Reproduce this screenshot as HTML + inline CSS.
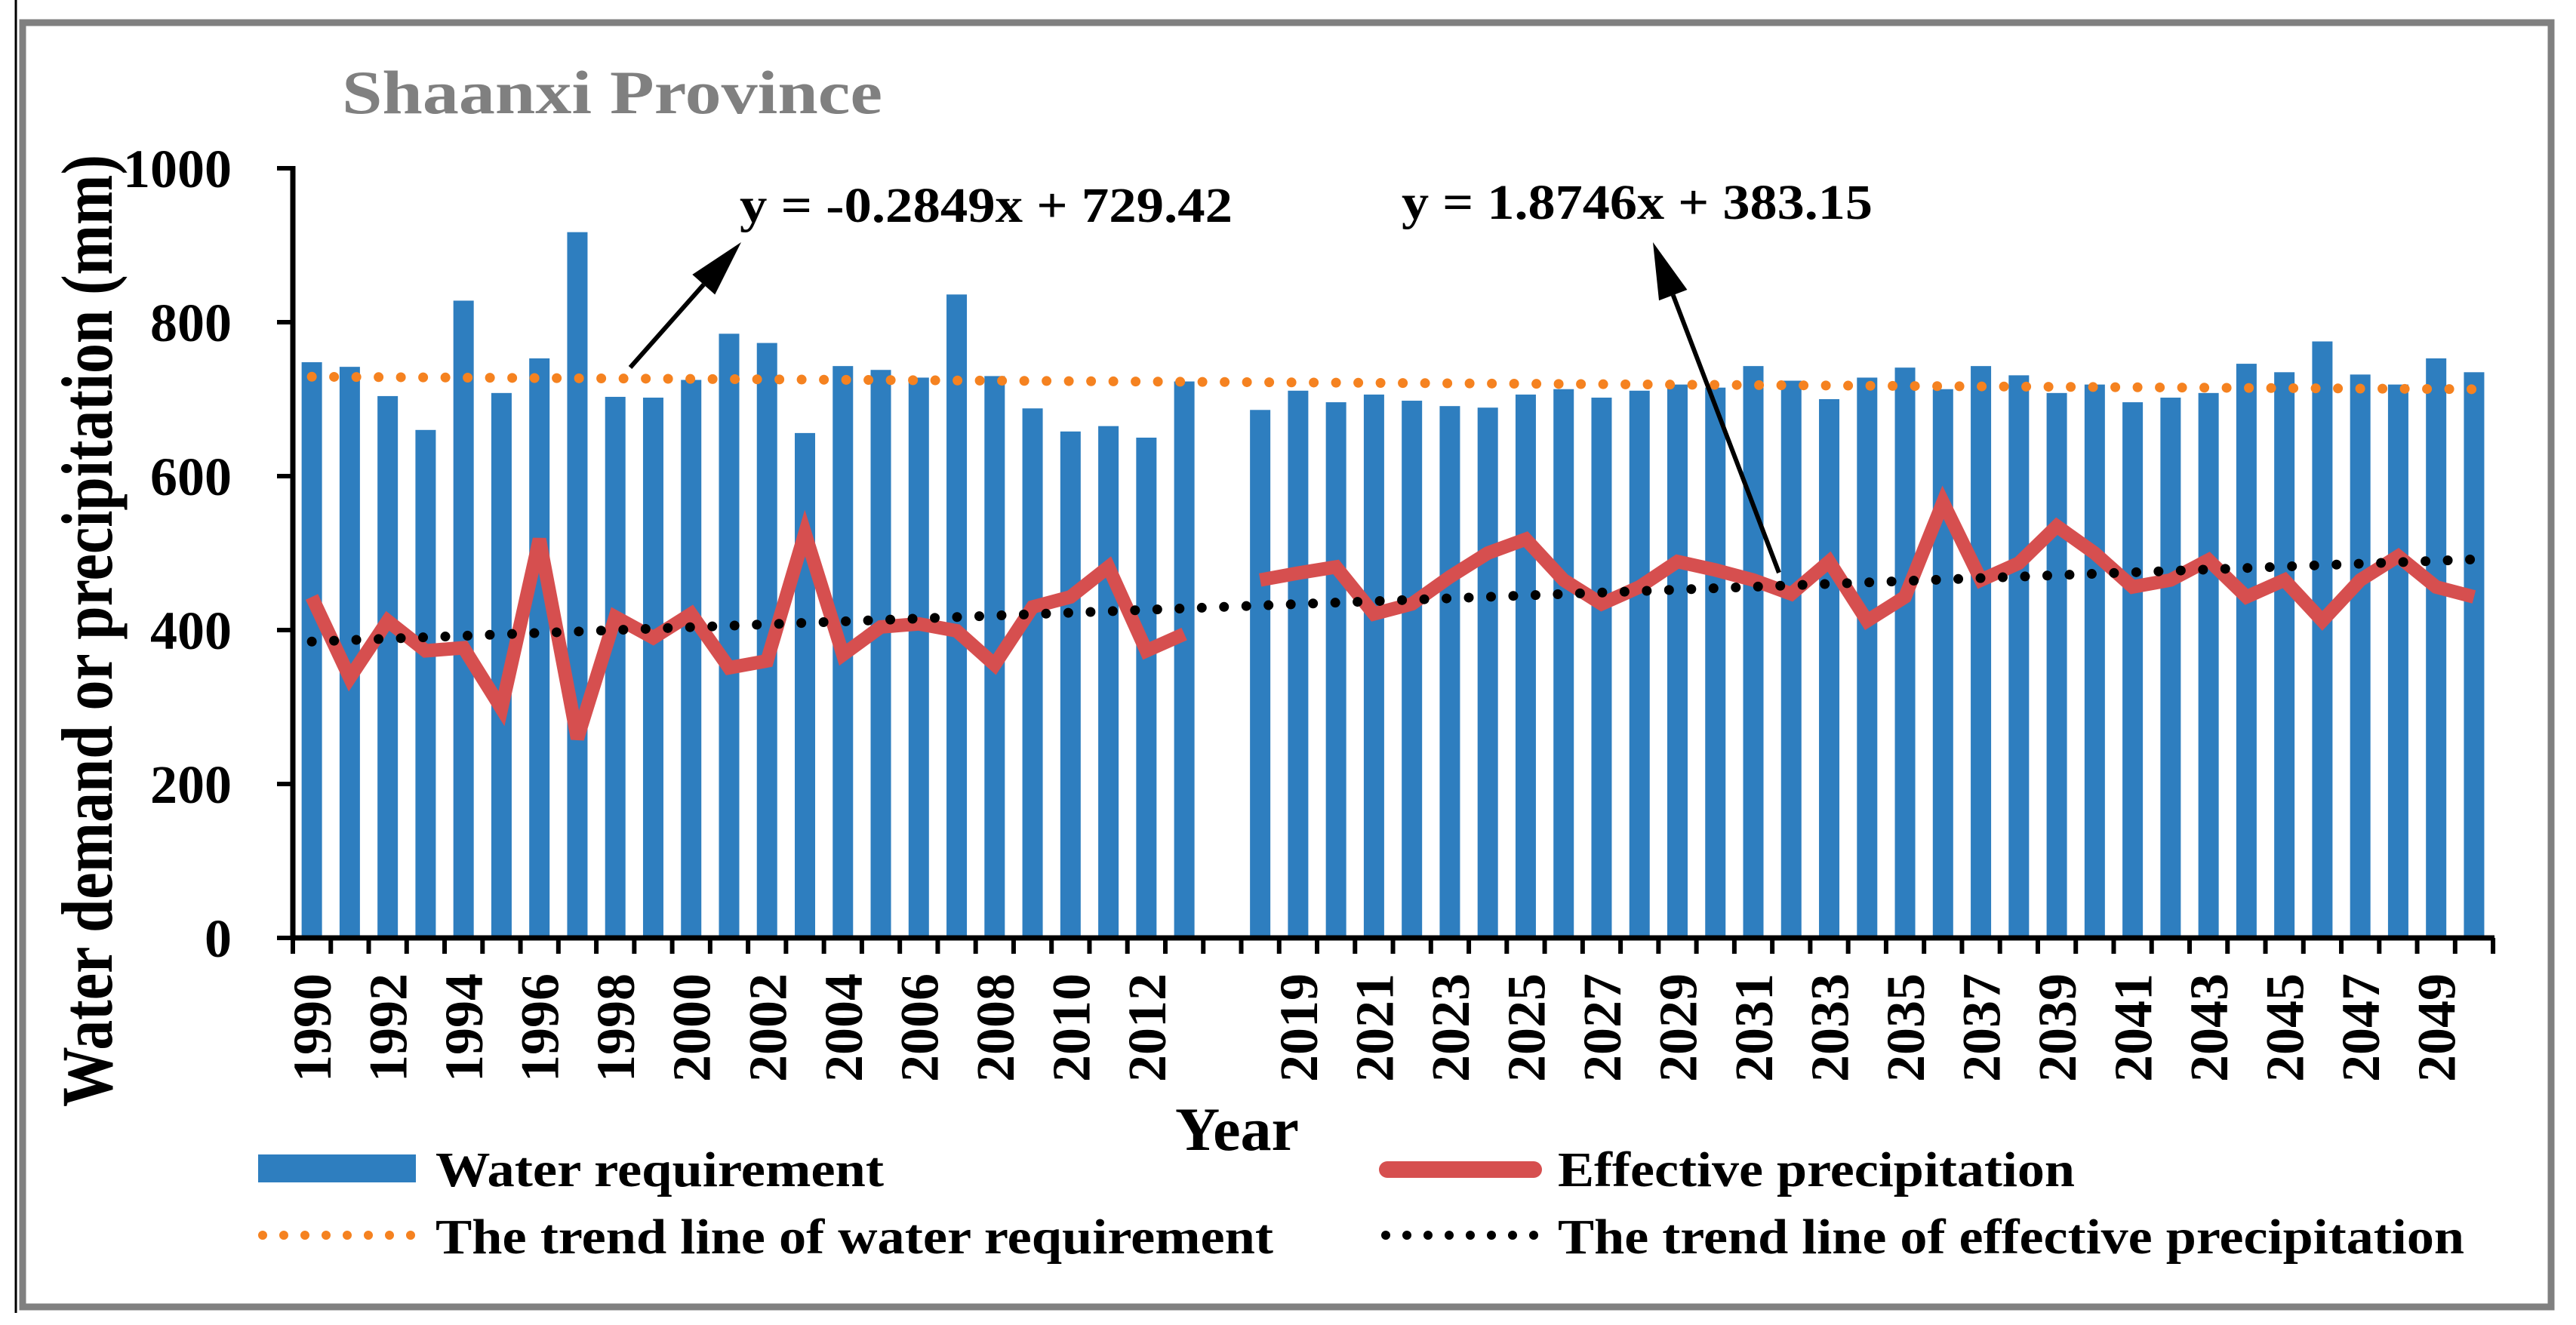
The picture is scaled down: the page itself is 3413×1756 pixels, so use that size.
<!DOCTYPE html>
<html><head><meta charset="utf-8"><style>
html,body{margin:0;padding:0;background:#fff;}
svg{display:block;font-family:"Liberation Serif",serif;font-weight:bold;}
</style></head><body>
<svg id="chart" width="3413" height="1756" viewBox="0 0 3413 1756">
<line x1="21" y1="0" x2="21" y2="1740" stroke="#000" stroke-width="3"/>
<rect x="30" y="30" width="3350" height="1702" fill="none" stroke="#808080" stroke-width="9"/>
<text x="453" y="150" font-size="82" fill="#808080" textLength="716" lengthAdjust="spacingAndGlyphs">Shaanxi Province</text>
<g id="plot"></g>
<text transform="translate(148,1467) rotate(-90)" font-size="96" fill="#000" textLength="1262" lengthAdjust="spacingAndGlyphs">Water demand or precipitation (mm)</text>
<text x="1639" y="1524" font-size="82" text-anchor="middle">Year</text>
<text x="980" y="294" font-size="66" textLength="653" lengthAdjust="spacingAndGlyphs">y = -0.2849x + 729.42</text>
<text x="1857" y="290" font-size="66" textLength="624" lengthAdjust="spacingAndGlyphs">y = 1.8746x + 383.15</text>
<g>
<rect x="342" y="1530" width="209" height="37" fill="#2e7ebf"/>
<text x="577" y="1572" font-size="66" textLength="594" lengthAdjust="spacingAndGlyphs">Water requirement</text>
<line x1="348" y1="1637" x2="545" y2="1637" stroke="#f58220" stroke-width="12" stroke-linecap="round" stroke-dasharray="0 28"/>
<text x="577" y="1661" font-size="66" textLength="1110" lengthAdjust="spacingAndGlyphs">The trend line of water requirement</text>
<line x1="1838" y1="1550" x2="2032" y2="1550" stroke="#d64f4f" stroke-width="22" stroke-linecap="round"/>
<text x="2064" y="1572" font-size="66" textLength="685" lengthAdjust="spacingAndGlyphs">Effective precipitation</text>
<line x1="1836" y1="1637" x2="2033" y2="1637" stroke="#000" stroke-width="12" stroke-linecap="round" stroke-dasharray="0 28"/>
<text x="2064" y="1661" font-size="66" textLength="1201" lengthAdjust="spacingAndGlyphs">The trend line of effective precipitation</text>
</g>
</svg>
<script>
const categories = ["1990","1991","1992","1993","1994","1995","1996","1997","1998","1999","2000","2001","2002","2003","2004","2005","2006","2007","2008","2009","2010","2011","2012","2013","",
"2018","2019","2020","2021","2022","2023","2024","2025","2026","2027","2028","2029","2030","2031","2032","2033","2034","2035","2036","2037","2038","2039","2040","2041","2042","2043","2044","2045","2046","2047","2048","2049","2050"];
const waterRequirement = [748,742,704,660,828,708,753,917,703,702,725,785,773,656,743,738,728,836,730,688,658,665,650,723,null,
686,711,696,706,698,691,689,706,713,702,711,719,715,743,724,700,728,741,713,743,731,708,719,696,702,708,746,735,775,732,719,753,735];
const effectivePrecip = [443,338,412,373,377,298,518,259,417,390,421,351,360,526,368,404,408,399,355,430,443,482,373,395,null,
465,474,482,421,434,469,500,518,465,434,456,489,478,465,447,489,412,443,566,465,487,535,500,456,465,491,443,465,412,465,496,456,443];
const yTicks = [0,200,400,600,800,1000];
const waterTrend = {slope:-0.2849, intercept:729.42};
const precipTrend = {slope:1.8746, intercept:383.15};

const NS = "http://www.w3.org/2000/svg";
const plot = document.getElementById('plot');
const X0 = 388, SLOT = 50.26, Y0 = 1243, YTOP = 223;
function xScale(i){ return X0 + SLOT*(i+0.5); }
function yScale(v){ return Y0 - (v/1000)*(Y0-YTOP); }
function mk(tag, attrs){ const e=document.createElementNS(NS,tag); for(const k in attrs) e.setAttribute(k,attrs[k]); plot.appendChild(e); return e; }

// bars
waterRequirement.forEach((v,i)=>{
  if(v==null) return;
  const r = mk('rect',{x:xScale(i)-13.5,y:yScale(v),width:27,height:Y0-yScale(v),fill:'#2e7ebf'});
  
  
});
// trend lines
function trendLine(t,color,name){
  const n = categories.length;
  const l = mk('line',{x1:xScale(0),y1:yScale(t.intercept+t.slope*1),x2:xScale(n-1),y2:yScale(t.intercept+t.slope*n),stroke:color,'stroke-width':13,'stroke-linecap':'round','stroke-dasharray':'0 29.5'});
  
  
}
trendLine(waterTrend,'#f58220','water-trend-line');
// precip line segments (break at gap)
let segs=[],cur=[];
effectivePrecip.forEach((v,i)=>{ if(v==null){ if(cur.length) segs.push(cur); cur=[]; } else cur.push(xScale(i).toFixed(1)+','+yScale(v).toFixed(1)); });
if(cur.length) segs.push(cur);
segs.forEach((s,k)=>{
  const p = mk('polyline',{points:s.join(' '),fill:'none',stroke:'#d64f4f','stroke-width':18,'stroke-linejoin':'miter','stroke-linecap':'butt'});
  
  
});
trendLine(precipTrend,'#000','precip-trend-line');

// axes
const ax = mk('line',{x1:388,y1:Y0,x2:3305,y2:Y0,stroke:'#000','stroke-width':7});


const ay = mk('line',{x1:388,y1:YTOP-3,x2:388,y2:Y0+3,stroke:'#000','stroke-width':7});


for(let k=0;k<=categories.length;k++){
  const t = mk('line',{x1:X0+SLOT*k,y1:Y0,x2:X0+SLOT*k,y2:Y0+21,stroke:'#000','stroke-width':6});
  
  
}
categories.forEach((c,i)=>{
  if(i%2!==0 || c==='') return;
  const tx = mk('text',{transform:`translate(${xScale(i)+25},1290) rotate(-90)`,'font-size':72,'text-anchor':'end'});
  tx.textContent = c;
  
  
});
yTicks.forEach(v=>{
  const t = mk('line',{x1:367,y1:yScale(v),x2:388,y2:yScale(v),stroke:'#000','stroke-width':6});
  
  
  const tx = mk('text',{x:307,y:yScale(v)+25,'font-size':72,'text-anchor':'end'});
  tx.textContent = v;
  
  
});
// arrows
function arrow(x1,y1,x2,y2,name){
  const a=Math.atan2(y2-y1,x2-x1), L=75, W=20;
  const bx=x2-L*Math.cos(a), by=y2-L*Math.sin(a);
  const l = mk('line',{x1:x1,y1:y1,x2:bx,y2:by,stroke:'#000','stroke-width':6});
  
  
  const px=-Math.sin(a), py=Math.cos(a);
  const h = mk('polygon',{points:`${x2},${y2} ${bx+W*px},${by+W*py} ${bx-W*px},${by-W*py}`,fill:'#000'});
  
  
}
arrow(835,487,982,321,'water-equation-arrow');
arrow(2357,759,2190,321,'precip-equation-arrow');
</script>
</body></html>
